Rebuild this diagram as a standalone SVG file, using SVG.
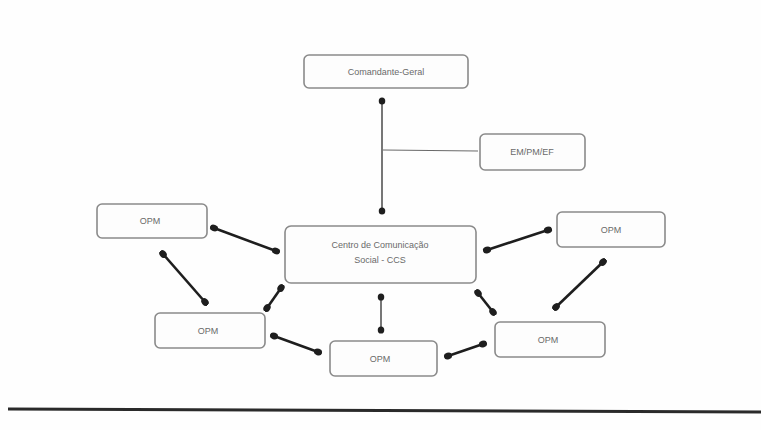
<svg xmlns="http://www.w3.org/2000/svg" width="761" height="430" viewBox="0 0 761 430">
<defs>
<style>
.box{fill:#fdfdfd;stroke:#8a8a8a;stroke-width:1.6}
.t{font-family:"Liberation Sans",Arial,sans-serif;font-size:9px;fill:#6a6a6a;text-anchor:middle}
.c{stroke:#1e1e1e;stroke-width:2.6;fill:none;marker-start:url(#d);marker-end:url(#d)}
.v{stroke:#555;stroke-width:1.6;fill:none;marker-start:url(#d2);marker-end:url(#d2)}
.thin{stroke:#6a6a6a;stroke-width:1.2;fill:none}
</style>
<marker id="d" viewBox="0 0 10 10" refX="5" refY="5" markerWidth="3.2" markerHeight="3.2" orient="auto">
<ellipse cx="5" cy="5" rx="5" ry="4" fill="#1e1e1e"/>
</marker>
<marker id="d2" viewBox="0 0 10 10" refX="5" refY="5" markerWidth="4.5" markerHeight="4.5" orient="auto">
<ellipse cx="5" cy="5" rx="5" ry="4.5" fill="#1e1e1e"/>
</marker>
</defs>
<rect width="761" height="430" fill="#fefefe"/>
<g id="connectors">
<line class="v" x1="382" y1="101" x2="382" y2="211"/>
<line class="thin" x1="383" y1="150" x2="478" y2="151"/>
<line class="c" x1="214" y1="228" x2="276" y2="251"/>
<line class="c" x1="163" y1="254" x2="205" y2="302"/>
<line class="c" x1="281" y1="288" x2="267" y2="308"/>
<line class="v" x1="381" y1="297" x2="381" y2="330"/>
<line class="c" x1="478" y1="293" x2="493" y2="312"/>
<line class="c" x1="487" y1="250" x2="548" y2="230"/>
<line class="c" x1="603" y1="262" x2="556" y2="307"/>
<line class="c" x1="274" y1="336" x2="318" y2="352"/>
<line class="c" x1="448" y1="356" x2="483" y2="344"/>
</g>
<g id="comandante"><rect class="box" x="304" y="55" width="164" height="33" rx="5"/><text class="t" x="386" y="75">Comandante-Geral</text></g>
<g id="empm"><rect class="box" x="480" y="134" width="105" height="36" rx="5"/><text class="t" x="532" y="155">EM/PM/EF</text></g>
<g id="ccs"><rect class="box" x="285" y="226" width="191" height="57" rx="6"/><text class="t" x="380" y="248">Centro de Comunicação</text><text class="t" x="380" y="263">Social - CCS</text></g>
<g id="opm1"><rect class="box" x="97" y="204" width="110" height="34" rx="5"/><text class="t" x="150" y="224">OPM</text></g>
<g id="opm2"><rect class="box" x="557" y="212" width="108" height="35" rx="5"/><text class="t" x="611" y="233">OPM</text></g>
<g id="opm3"><rect class="box" x="155" y="313" width="110" height="35" rx="5"/><text class="t" x="208" y="334">OPM</text></g>
<g id="opm4"><rect class="box" x="330" y="341" width="107" height="35" rx="5"/><text class="t" x="380" y="362">OPM</text></g>
<g id="opm5"><rect class="box" x="495" y="322" width="110" height="35" rx="5"/><text class="t" x="548" y="343">OPM</text></g>
<line x1="8" y1="409" x2="761" y2="412" stroke="#2a2a2a" stroke-width="3"/>
</svg>
